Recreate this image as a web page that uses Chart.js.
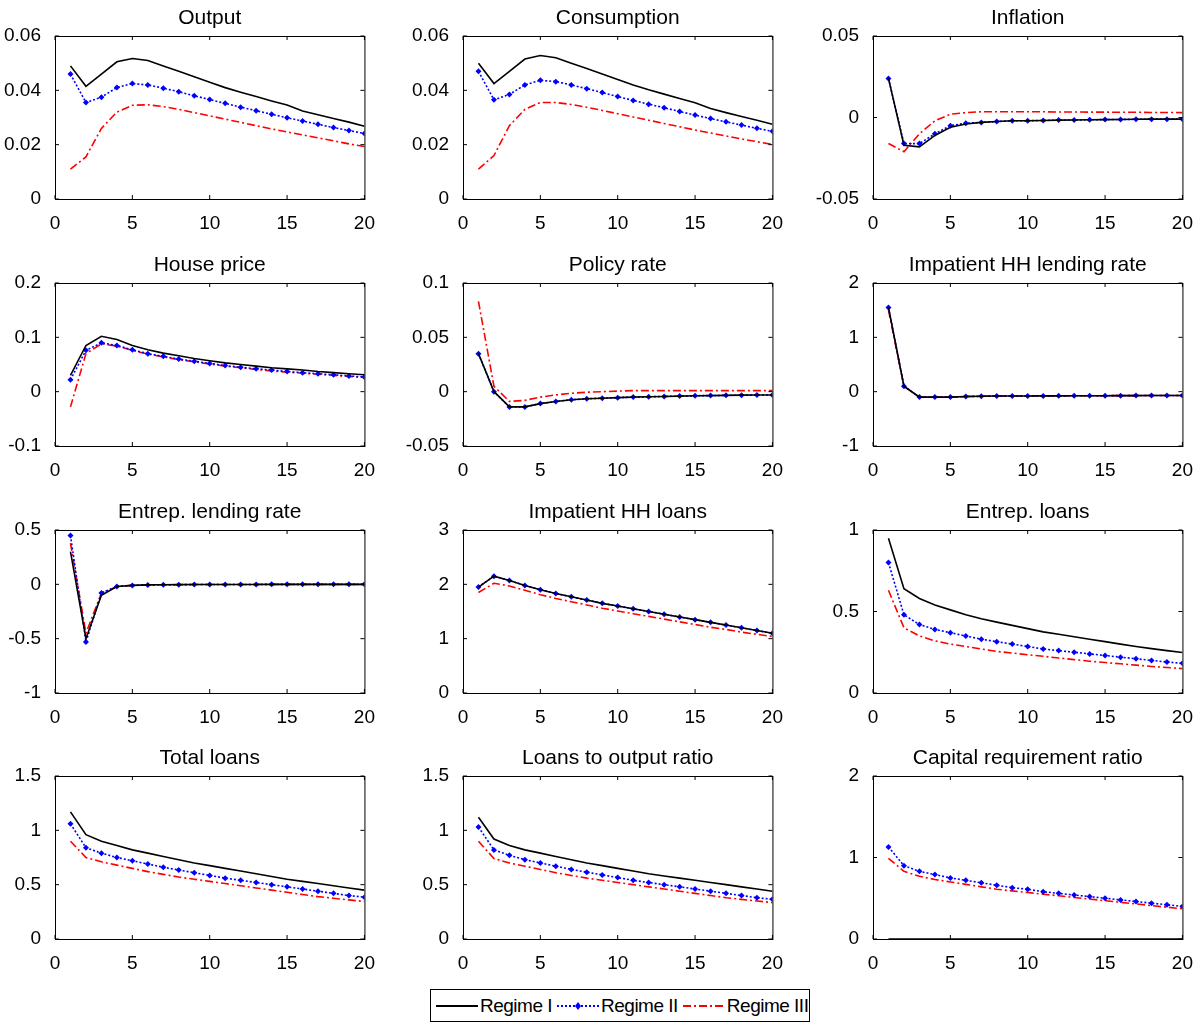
<!DOCTYPE html>
<html>
<head>
<meta charset="utf-8">
<script src="https://cdn.jsdelivr.net/npm/chart.js@4/dist/chart.umd.min.js"></script>
<style>
  body { margin: 0; background: #fff; width: 1204px; height: 1025px; position: relative; overflow: hidden; font-family: "Liberation Sans", Arial, sans-serif; }
  .cv { position: absolute; }
  #legend { position: absolute; left: 430px; top: 989px; width: 380px; height: 33px; border: 1px solid #000; box-sizing: border-box; display: flex; align-items: center; font-size: 19px; white-space: nowrap; letter-spacing: -0.5px; }
  #legend span { display: flex; align-items: center; margin-left: 3px; }
</style>
</head>
<body>
<div id="legend">
  <span><svg width="46" height="10"><line x1="2" y1="5" x2="44" y2="5" stroke="#000" stroke-width="2"/></svg>Regime I</span>
  <span><svg width="46" height="10"><line x1="2" y1="5" x2="44" y2="5" stroke="#0000ff" stroke-width="2" stroke-dasharray="2,2"/><polygon points="23,1 26,5 23,9 20,5" fill="#0000ff"/></svg>Regime II</span>
  <span><svg width="46" height="10"><line x1="2" y1="5" x2="44" y2="5" stroke="#ff0000" stroke-width="2" stroke-dasharray="8,3,2,3"/></svg>Regime III</span>
</div>
<script>
const periods = [1,2,3,4,5,6,7,8,9,10,11,12,13,14,15,16,17,18,19,20];
const xTicks = [0,5,10,15,20];

const titles = ["Output","Consumption","Inflation","House price","Policy rate","Impatient HH lending rate",
  "Entrep. lending rate","Impatient HH loans","Entrep. loans","Total loans","Loans to output ratio","Capital requirement ratio"];

const yRanges = [[0,0.06,0.02],[0,0.06,0.02],[-0.05,0.05,0.05],[-0.1,0.2,0.1],[-0.05,0.1,0.05],[-1,2,1],
  [-1,0.5,0.5],[0,3,1],[0,1,0.5],[0,1.5,0.5],[0,1.5,0.5],[0,2,1]];

const regime1 = [
  [.049,.0415,.046,.0505,.0517,.051,.049,.047,.045,.043,.041,.0393,.0377,.0361,.0346,.0324,.0310,.0296,.0283,.0268],
  [.050,.0425,.047,.0515,.0528,.052,.050,.048,.046,.044,.042,.0402,.0386,.0370,.0354,.0333,.0318,.0304,.0290,.0275],
  [.024,-.017,-.018,-.011,-.006,-.004,-.003,-.0025,-.002,-.002,-.0018,-.0016,-.0015,-.0014,-.0013,-.0012,-.0011,-.001,-.001,-.001],
  [.03,.085,.102,.096,.085,.077,.071,.066,.061,.057,.053,.050,.047,.044,.042,.040,.037,.035,.033,.031],
  [.035,0,-.014,-.014,-.011,-.009,-.0075,-.0065,-.006,-.0055,-.005,-.0047,-.0044,-.0041,-.0038,-.0036,-.0034,-.0032,-.0031,-.003],
  [1.55,.1,-.1,-.1,-.1,-.09,-.085,-.08,-.08,-.08,-.078,-.077,-.076,-.075,-.074,-.073,-.072,-.071,-.07,-.07],
  [.3,-.5,-.1,-.02,-.01,-.005,-.004,-.003,-.002,-.002,-.001,-.001,-.001,0,0,0,0,0,0,0],
  [1.95,2.15,2.07,1.98,1.9,1.83,1.77,1.71,1.65,1.6,1.55,1.5,1.45,1.4,1.35,1.3,1.25,1.2,1.15,1.1],
  [.95,.64,.58,.54,.51,.48,.455,.435,.415,.395,.375,.36,.345,.33,.315,.3,.285,.272,.26,.248],
  [1.17,.96,.9,.86,.82,.79,.76,.73,.7,.675,.65,.625,.6,.575,.55,.53,.51,.49,.47,.45],
  [1.12,.92,.86,.82,.79,.76,.73,.7,.675,.65,.625,.6,.58,.56,.54,.52,.5,.48,.46,.44],
  [0,0,0,0,0,0,0,0,0,0,0,0,0,0,0,0,0,0,0,0]
];
const regime2 = [
  [.046,.0355,.0375,.041,.0425,.042,.0408,.0395,.038,.0366,.0352,.0338,.0325,.0312,.0299,.0287,.0275,.0263,.0252,.0241],
  [.047,.0365,.0385,.042,.0437,.0432,.042,.0406,.0392,.0377,.0363,.0349,.0336,.0322,.0309,.0296,.0284,.0272,.026,.0249],
  [.024,-.016,-.016,-.01,-.005,-.0035,-.003,-.0025,-.002,-.002,-.0018,-.0016,-.0015,-.0014,-.0013,-.0012,-.0011,-.001,-.001,-.001],
  [.022,.076,.09,.085,.077,.07,.065,.06,.056,.052,.048,.045,.042,.04,.037,.035,.033,.031,.029,.027],
  [.035,0,-.014,-.014,-.011,-.009,-.0075,-.0065,-.006,-.0055,-.005,-.0047,-.0044,-.0041,-.0038,-.0036,-.0034,-.0032,-.0031,-.003],
  [1.55,.1,-.1,-.1,-.1,-.09,-.085,-.08,-.08,-.08,-.078,-.077,-.076,-.075,-.074,-.073,-.072,-.071,-.07,-.07],
  [.45,-.53,-.08,-.02,-.01,-.005,-.004,-.003,-.002,-.002,-.001,-.001,-.001,0,0,0,0,0,0,0],
  [1.95,2.15,2.07,1.98,1.9,1.83,1.77,1.71,1.65,1.6,1.55,1.5,1.45,1.4,1.35,1.3,1.25,1.2,1.15,1.1],
  [.8,.48,.42,.39,.37,.35,.33,.315,.3,.285,.27,.26,.25,.24,.23,.22,.21,.2,.19,.182],
  [1.06,.84,.79,.75,.72,.69,.66,.635,.61,.585,.56,.54,.52,.5,.48,.46,.44,.42,.4,.385],
  [1.03,.82,.77,.73,.7,.67,.64,.615,.59,.565,.54,.52,.5,.48,.46,.44,.42,.4,.38,.365],
  [1.13,.9,.83,.79,.75,.72,.69,.66,.63,.61,.58,.56,.54,.52,.5,.48,.46,.44,.42,.4]
];
const regime3 = [
  [.011,.0155,.026,.032,.0345,.0347,.034,.033,.0318,.0306,.0294,.0282,.027,.0258,.0247,.0236,.0225,.0214,.0203,.0193],
  [.011,.016,.027,.033,.0355,.0355,.0348,.0338,.0326,.0314,.0302,.029,.0278,.0266,.0254,.0243,.0232,.0221,.0211,.0201],
  [-.016,-.021,-.01,-.002,.002,.003,.0035,.0035,.0035,.0035,.0035,.0034,.0034,.0033,.0033,.0032,.0032,.0031,.0031,.003],
  [-.028,.07,.088,.084,.076,.069,.064,.059,.055,.051,.047,.044,.041,.038,.036,.034,.032,.03,.028,.026],
  [.083,.005,-.009,-.008,-.005,-.003,-.0015,-.0005,0,.0005,.001,.001,.001,.001,.001,.001,.001,.001,.001,.001],
  [1.5,.1,-.1,-.1,-.1,-.09,-.085,-.08,-.08,-.08,-.078,-.077,-.076,-.075,-.074,-.073,-.072,-.071,-.07,-.07],
  [.38,-.45,-.08,-.02,-.01,-.005,-.004,-.003,-.002,-.002,-.001,-.001,-.001,0,0,0,0,0,0,0],
  [1.85,2.02,1.97,1.89,1.81,1.74,1.68,1.62,1.56,1.51,1.46,1.41,1.36,1.31,1.26,1.21,1.17,1.12,1.08,1.04],
  [.63,.4,.35,.32,.3,.285,.27,.255,.245,.235,.225,.215,.205,.195,.187,.179,.171,.163,.156,.15],
  [.9,.75,.71,.68,.65,.62,.595,.57,.55,.53,.51,.49,.47,.45,.43,.41,.39,.375,.36,.345],
  [.9,.74,.7,.67,.64,.61,.585,.56,.54,.52,.5,.48,.46,.44,.42,.4,.38,.365,.35,.335],
  [.99,.83,.77,.73,.7,.67,.64,.61,.59,.57,.55,.53,.51,.49,.47,.45,.43,.41,.39,.37]
];

const plotLefts = [55, 463, 873];
const plotTops = [36, 283, 530, 776];
const plotW = 311, plotH = 163, axisW = 60, axisH = 34, titleH = 36;

const boxPlugin = {
  id: 'box',
  afterDraw(chart) {
    const a = chart.chartArea, ctx = chart.ctx;
    ctx.save();
    ctx.strokeStyle = '#000'; ctx.lineWidth = 1;
    ctx.strokeRect(a.left + 0.5, a.top + 0.5, a.right - a.left, a.bottom - a.top);
    const xs = chart.scales.x, ys = chart.scales.y;
    ctx.beginPath();
    xTicks.forEach(t => { const px = xs.getPixelForValue(t); ctx.moveTo(px, a.bottom); ctx.lineTo(px, a.bottom - 4); ctx.moveTo(px, a.top); ctx.lineTo(px, a.top + 4); });
    ys.ticks.forEach(t => { const py = ys.getPixelForValue(t.value); ctx.moveTo(a.left, py); ctx.lineTo(a.left + 4, py); ctx.moveTo(a.right, py); ctx.lineTo(a.right - 4, py); });
    ctx.stroke();
    ctx.fillStyle = '#000';
    ctx.font = '21px "Liberation Sans", Arial, sans-serif';
    ctx.textAlign = 'center'; ctx.textBaseline = 'bottom';
    ctx.fillText(chart.options.plugins.box.text, (a.left + a.right) / 2, a.top - 7);
    ctx.restore();
  }
};

for (let i = 0; i < 12; i++) {
  const r = Math.floor(i / 3), c = i % 3;
  const cv = document.createElement('canvas');
  cv.className = 'cv';
  const w = axisW + plotW + 14, h = titleH + plotH + axisH;
  cv.style.left = (plotLefts[c] - axisW) + 'px';
  cv.style.top = (plotTops[r] - titleH) + 'px';
  cv.style.width = w + 'px'; cv.style.height = h + 'px';
  cv.width = w; cv.height = h;
  document.body.appendChild(cv);
  const [ymin, ymax, ystep] = yRanges[i];
  new Chart(cv, {
    type: 'line',
    data: {
      datasets: [
        { data: regime1[i].map((v, k) => ({x: periods[k], y: v})), borderColor: '#000', borderWidth: 1.6, pointRadius: 0 },
        { data: regime2[i].map((v, k) => ({x: periods[k], y: v})), borderColor: '#0000ff', borderWidth: 1.6, borderDash: [2, 2],
          pointStyle: 'rectRot', pointRadius: 3, pointBackgroundColor: '#0000ff', pointBorderColor: '#0000ff', pointBorderWidth: 0 },
        { data: regime3[i].map((v, k) => ({x: periods[k], y: v})), borderColor: '#ff0000', borderWidth: 1.6, borderDash: [8, 3, 2, 3], pointRadius: 0 }
      ]
    },
    options: {
      responsive: false, animation: false,
      layout: { padding: { top: titleH, right: 14, left: 0, bottom: 0 } },
      plugins: { legend: { display: false }, tooltip: { enabled: false }, box: { text: titles[i] } },
      scales: {
        x: {
          type: 'linear', min: 0, max: 20,
          afterBuildTicks: s => { s.ticks = xTicks.map(v => ({value: v})); },
          afterFit: s => { s.height = axisH; },
          grid: { display: false }, border: { display: false },
          ticks: { color: '#000', font: { size: 19, family: '"Liberation Sans", Arial, sans-serif' }, padding: 5, maxRotation: 0 }
        },
        y: {
          min: ymin, max: ymax,
          ticks: { stepSize: ystep, color: '#000', font: { size: 19, family: '"Liberation Sans", Arial, sans-serif' }, padding: 6,
            callback: v => Number(v.toFixed(3)).toString() },
          afterFit: s => { s.width = axisW; },
          grid: { display: false }, border: { display: false }
        }
      }
    },
    plugins: [boxPlugin]
  });
}
</script>
</body>
</html>
